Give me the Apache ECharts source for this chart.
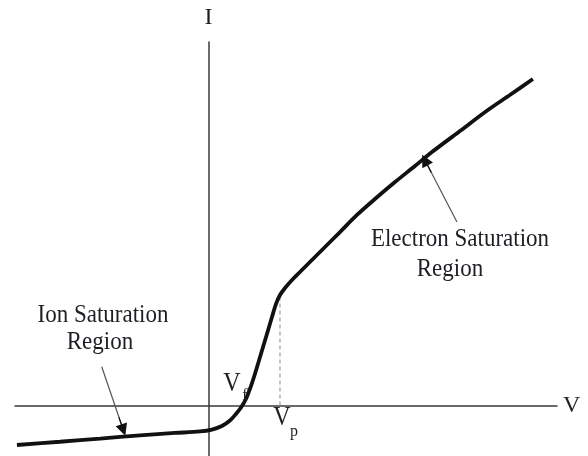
<!DOCTYPE html>
<html>
<head>
<meta charset="utf-8">
<title>Langmuir probe I–V characteristic</title>
<script src="https://cdn.jsdelivr.net/npm/echarts@6/dist/echarts.min.js"></script>
<style>
  html, body { margin: 0; padding: 0; background: #ffffff; }
  #chart { width: 588px; height: 456px; }
</style>
</head>
<body>
<div id="chart"></div>
<script>
// Probe bias (arbitrary units) and collected current (arbitrary units)
const probeVoltage = [
  -19.80, -15.35, -11.20, -7.09, -3.47, -0.89, 0.35, 1.38, 2.21, 2.83, 3.35,
  3.86, 4.38, 4.79, 5.41, 6.03, 6.55, 6.96, 7.38, 7.90, 8.62, 9.44, 10.68,
  12.03, 13.58, 15.33, 17.19, 19.26, 21.32, 23.08, 25.97, 28.86, 31.13, 33.51
];
const probeCurrent = [
  -3.91, -3.59, -3.27, -2.95, -2.72, -2.57, -2.38, -2.03, -1.49, -0.84, -0.20,
  0.64, 1.93, 3.12, 5.10, 7.08, 8.76, 10.05, 10.94, 11.64, 12.43, 13.22, 14.41,
  15.70, 17.18, 18.87, 20.45, 22.13, 23.72, 25.10, 27.18, 29.26, 30.75, 32.33
];

// Plasma potential (knee of the curve) and the current reached there
const plasmaPotential = 7.38;
const plasmaPotentialCurrent = 10.6;

// Axis names
const axisNames = { x: 'V', y: 'I' };

const curve = probeVoltage.map((v, i) => [v, probeCurrent[i]]);

const serif = '"Liberation Serif", "DejaVu Serif", serif';
const inkColor = '#1e1e24';

const chart = echarts.init(document.getElementById('chart'), null, { renderer: 'canvas' });

// Pointer arrows for the two region labels (tail -> head, in data units)
const pointers = [
  [[25.66, 18.17], [22.35, 24.31]],
  [[-11.04, 3.84], [-8.81, -2.43]]
];

// Short black stub at the head end of each pointer, carrying the arrowhead
const heads = pointers.map(([t, h]) => {
  const k = 0.8;
  return { coords: [[t[0] + (h[0] - t[0]) * k, t[1] + (h[1] - t[1]) * k], h] };
});

function textEl(str, x, y, size) {
  return {
    type: 'text',
    x: x, y: y,
    scaleY: 1.1,
    style: {
      text: str,
      font: size + 'px ' + serif,
      fill: inkColor,
      textAlign: 'center',
      textVerticalAlign: 'middle'
    },
    z: 10
  };
}

chart.setOption({
  animation: false,
  backgroundColor: '#ffffff',
  grid: { left: 15, right: 31, top: 42, bottom: 0, containLabel: false },
  xAxis: {
    type: 'value',
    min: -20, max: 36,
    name: axisNames.x,
    nameLocation: 'end',
    nameGap: 6,
    nameTextStyle: { fontFamily: serif, fontSize: 24, color: inkColor, verticalAlign: 'middle' },
    axisLine: { show: true, onZero: true, lineStyle: { color: '#3a3a3a', width: 1.5 } },
    axisTick: { show: false },
    axisLabel: { show: false },
    splitLine: { show: false }
  },
  yAxis: {
    type: 'value',
    min: -5, max: 36,
    name: axisNames.y,
    nameLocation: 'end',
    nameGap: 12,
    nameTextStyle: { fontFamily: serif, fontSize: 24, color: inkColor },
    axisLine: { show: true, onZero: true, lineStyle: { color: '#3a3a3a', width: 1.5 } },
    axisTick: { show: false },
    axisLabel: { show: false },
    splitLine: { show: false }
  },
  series: [
    {
      type: 'line',
      name: 'I-V characteristic',
      data: curve,
      smooth: 0.3,
      showSymbol: false,
      lineStyle: { color: '#111111', width: 3.8 },
      z: 5
    },
    {
      type: 'line',
      name: 'plasma potential',
      data: [[plasmaPotential, 0], [plasmaPotential, plasmaPotentialCurrent]],
      showSymbol: false,
      lineStyle: { color: '#8a8a8a', width: 1, type: [4, 3] },
      z: 3
    },
    {
      type: 'lines',
      coordinateSystem: 'cartesian2d',
      symbol: ['none', 'none'],
      lineStyle: { color: '#555555', width: 1.2, opacity: 1 },
      data: pointers.map(p => ({ coords: p })),
      z: 6
    },
    {
      type: 'lines',
      coordinateSystem: 'cartesian2d',
      symbol: ['none', 'triangle'],
      symbolSize: [0, 12],
      lineStyle: { color: '#111111', width: 1.2, opacity: 1 },
      data: heads,
      z: 7
    }
  ],
  graphic: [
    textEl('Electron Saturation', 460, 239, 23),
    textEl('Region', 450, 269, 23),
    textEl('Ion Saturation', 103, 315, 23),
    textEl('Region', 100, 342, 23),
    textEl('V', 232, 384, 24),
    textEl('f', 245, 395, 16),
    textEl('V', 282, 418, 24),
    textEl('p', 294, 431, 16)
  ]
});
</script>
</body>
</html>
